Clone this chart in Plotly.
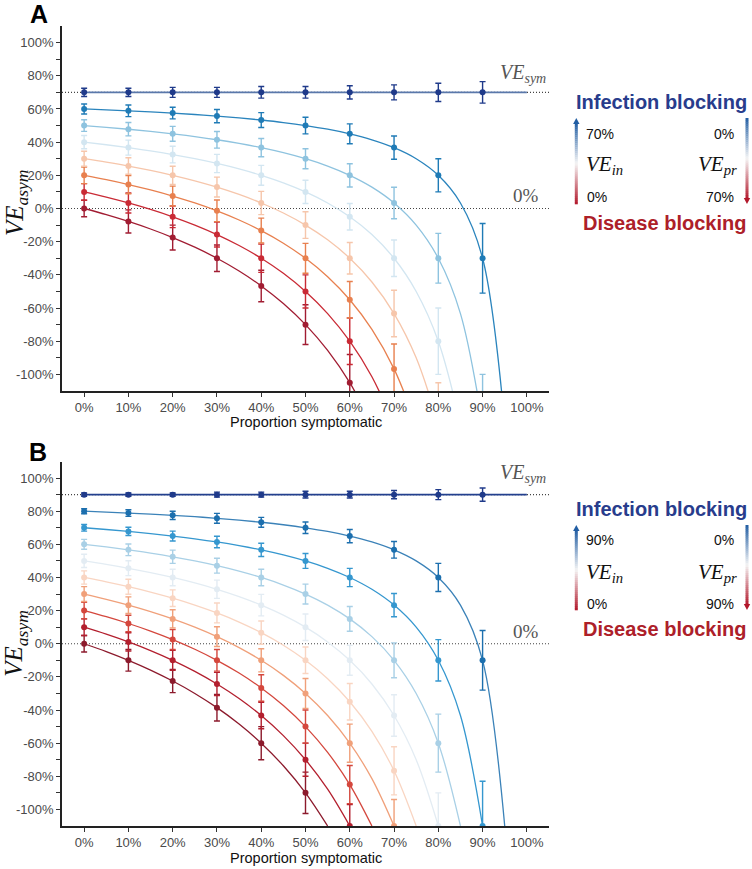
import plotly.graph_objects as go

W, H = 752, 869

# ---------------- DATA ----------------
# x positions (% symptomatic) for the measured points and the fitted curves
P_POINTS = [0, 10, 20, 30, 40, 50, 60, 70, 80, 90]
P_FINE = [0, 5, 10, 15, 20, 25, 30, 35, 40, 45, 50, 55, 60, 65, 70, 75, 80, 85, 90, 95]
X_TICKS = [0, 10, 20, 30, 40, 50, 60, 70, 80, 90, 100]
X_TICKTEXT = ["0%", "10%", "20%", "30%", "40%", "50%", "60%", "70%", "80%", "90%", "100%"]
Y_TICKS = [-100, -80, -60, -40, -20, 0, 20, 40, 60, 80, 100]
Y_TICKTEXT = ["-100%", "-80%", "-60%", "-40%", "-20%", "0%", "20%", "40%", "60%", "80%", "100%"]
Y_MINOR = [-90, -70, -50, -30, -10, 10, 30, 50, 70, 90]

# Panel A (VE_sym = 70%), VE_in = 0%..70%
A_VE_SYM = 70
A_VE_IN = [0, 10, 20, 30, 40, 50, 60, 70]
A_POINTS = [
    [0, -7.8, -17.5, -30, -46.7, -70, -105],
    [10, 3.3, -5, -15.7, -30, -50, -80],
    [20, 14.4, 7.5, -1.4, -13.3, -30, -55, -96.7],
    [30, 25.6, 20, 12.9, 3.3, -10, -30, -63.3, -130],
    [40, 36.7, 32.5, 27.1, 20, 10, -5, -30, -80],
    [50, 47.8, 45, 41.4, 36.7, 30, 20, 3.3, -30, -130],
    [60, 58.9, 57.5, 55.7, 53.3, 50, 45, 36.7, 20, -30],
    [70, 70, 70, 70, 70, 70, 70, 70, 70, 70],
]
A_ERRORS = [
    [5, 7, 7.5, 8, 9.5, 12, 17],
    [5, 6, 6.5, 7.5, 8.5, 10, 14],
    [5, 5.5, 6, 6.5, 7.5, 9, 11, 15],
    [4.5, 5, 5.5, 6, 7, 8, 9.5, 14, 25],
    [4, 4.5, 5, 5.5, 6, 7, 8, 11, 20],
    [3.5, 4, 4.5, 5, 5.5, 6, 7, 9.5, 15, 30],
    [3, 3.5, 3.5, 4, 4.5, 5, 6, 7, 10, 21],
    [2.5, 2.5, 3, 3, 3.5, 3.5, 4, 4.5, 5.5, 6.5],
]
A_CURVES = [
    [0, -3.68, -7.78, -12.35, -17.5, -23.33, -30, -37.69, -46.67, -57.27, -70, -85.56, -105, -130],
    [10, 6.84, 3.33, -0.59, -5, -10, -15.71, -22.31, -30, -39.09, -50, -63.33, -80, -101.43, -130],
    [20, 17.37, 14.44, 11.18, 7.5, 3.33, -1.43, -6.92, -13.33, -20.91, -30, -41.11, -55, -72.86, -96.67, -130],
    [30, 27.89, 25.56, 22.94, 20, 16.67, 12.86, 8.46, 3.33, -2.73, -10, -18.89, -30, -44.29, -63.33, -90, -130],
    [40, 38.42, 36.67, 34.71, 32.5, 30, 27.14, 23.85, 20, 15.45, 10, 3.33, -5, -15.71, -30, -50, -80, -130],
    [50, 48.95, 47.78, 46.47, 45, 43.33, 41.43, 39.23, 36.67, 33.64, 30, 25.56, 20, 12.86, 3.33, -10, -30, -63.33, -130],
    [60, 59.47, 58.89, 58.24, 57.5, 56.67, 55.71, 54.62, 53.33, 51.82, 50, 47.78, 45, 41.43, 36.67, 30, 20, 3.33, -30, -130],
    None,
]
A_COLORS = ["#a11c32", "#c92a35", "#e8804f", "#f6c6ab", "#d3e6f1", "#8ec3df", "#1f7bb6", "#1f3a8a"]
A_LINE_COLORS = ["#a11c32", "#c92a35", "#e8804f", "#f6c6ab", "#d3e6f1", "#8ec3df", "#2a84bd", "#5a78ab"]

# Panel B (VE_sym = 90%), VE_in = 0%..90%
B_VE_SYM = 90
B_VE_IN = [0, 10, 20, 30, 40, 50, 60, 70, 80, 90]
B_POINTS = [
    [0, -10, -22.5, -38.6, -60, -90],
    [10, 1.1, -10, -24.3, -43.3, -70, -110],
    [20, 12.2, 2.5, -10, -26.7, -50, -85],
    [30, 23.3, 15, 4.3, -10, -30, -60, -110],
    [40, 34.4, 27.5, 18.6, 6.7, -10, -35, -76.7],
    [50, 45.6, 40, 32.9, 23.3, 10, -10, -43.3, -110],
    [60, 56.7, 52.5, 47.1, 40, 30, 15, -10, -60],
    [70, 67.8, 65, 61.4, 56.7, 50, 40, 23.3, -10, -110],
    [80, 78.9, 77.5, 75.7, 73.3, 70, 65, 56.7, 40, -10],
    [90, 90, 90, 90, 90, 90, 90, 90, 90, 90],
]
B_ERRORS = [
    [5, 6.5, 7, 8, 10, 12.5],
    [5, 5.5, 6, 7, 8, 10, 13],
    [5, 5, 6, 6.5, 8, 10, 11.5],
    [4.5, 5, 5.5, 6, 7, 9, 11.5, 16],
    [4, 4.5, 5, 6, 7, 8, 11, 14.5],
    [4, 4.5, 5, 5.5, 6.5, 8, 9, 12.5, 20],
    [3, 3.5, 4, 4.5, 5, 6, 7.5, 10.5, 17.5],
    [2, 2.5, 3, 3.5, 4, 4.5, 5.5, 7, 12.5, 27],
    [1.5, 2, 2.5, 3, 3, 3.5, 4, 5, 8.5, 18],
    [1, 1, 1, 1.5, 1.5, 2, 2, 2.5, 3, 4],
]
B_CURVES = [
    [0, -4.74, -10, -15.88, -22.5, -30, -38.57, -48.46, -60, -73.64, -90, -110],
    [10, 5.79, 1.11, -4.12, -10, -16.67, -24.29, -33.08, -43.33, -55.45, -70, -87.78, -110],
    [20, 16.32, 12.22, 7.65, 2.5, -3.33, -10, -17.69, -26.67, -37.27, -50, -65.56, -85, -110],
    [30, 26.84, 23.33, 19.41, 15, 10, 4.29, -2.31, -10, -19.09, -30, -43.33, -60, -81.43, -110],
    [40, 37.37, 34.44, 31.18, 27.5, 23.33, 18.57, 13.08, 6.67, -0.91, -10, -21.11, -35, -52.86, -76.67, -110],
    [50, 47.89, 45.56, 42.94, 40, 36.67, 32.86, 28.46, 23.33, 17.27, 10, 1.11, -10, -24.29, -43.33, -70, -110],
    [60, 58.42, 56.67, 54.71, 52.5, 50, 47.14, 43.85, 40, 35.45, 30, 23.33, 15, 4.29, -10, -30, -60, -110],
    [70, 68.95, 67.78, 66.47, 65, 63.33, 61.43, 59.23, 56.67, 53.64, 50, 45.56, 40, 32.86, 23.33, 10, -10, -43.33, -110],
    [80, 79.47, 78.89, 78.24, 77.5, 76.67, 75.71, 74.62, 73.33, 71.82, 70, 67.78, 65, 61.43, 56.67, 50, 40, 23.33, -10, -110],
    None,
]
B_COLORS = ["#8c1a2c", "#b31f2e", "#d4473d", "#f0a07a", "#f9d5c2", "#e3ecf3", "#a9d0e6", "#3597cf", "#1c6fae", "#1f3a8a"]
B_LINE_COLORS = ["#8c1a2c", "#b31f2e", "#d4473d", "#f0a07a", "#f9d5c2", "#e3ecf3", "#a9d0e6", "#3597cf", "#3b82b8", "#23408e"]


# --------------- helpers (screen pixels -> paper) ---------------
def X(px):
    return px / W


def Y(py):
    return 1 - py / H


fig = go.Figure()


def add_panel(xa, ya, ve_sym, points, errors, curves, colors, line_colors):
    for i in range(len(points)):
        col = colors[i]
        lcol = line_colors[i]
        if curves[i] is None:
            fig.add_trace(go.Scatter(x=[0, 100], y=[ve_sym, ve_sym], mode="lines",
                                     line=dict(color=lcol, width=1.6),
                                     xaxis=xa, yaxis=ya, showlegend=False, hoverinfo="skip"))
        else:
            n = len(curves[i])
            fig.add_trace(go.Scatter(x=P_FINE[:n], y=curves[i], mode="lines",
                                     line=dict(color=lcol, width=1.3, shape="spline", smoothing=1.0),
                                     xaxis=xa, yaxis=ya, showlegend=False, hoverinfo="skip"))
        n = len(points[i])
        fig.add_trace(go.Scatter(x=P_POINTS[:n], y=points[i], mode="markers",
                                 marker=dict(color=col, size=6),
                                 error_y=dict(type="data", array=errors[i], symmetric=True,
                                              color=col, thickness=1.4, width=3),
                                 xaxis=xa, yaxis=ya, showlegend=False))


add_panel("x", "y", A_VE_SYM, A_POINTS, A_ERRORS, A_CURVES, A_COLORS, A_LINE_COLORS)
add_panel("x2", "y2", B_VE_SYM, B_POINTS, B_ERRORS, B_CURVES, B_COLORS, B_LINE_COLORS)

tickfont = dict(family="Liberation Sans, Arial, sans-serif", size=13, color="#4a4a4a")

xdom = [X(62), X(549)]
axis_common_x = dict(range=[-5, 105], tickvals=X_TICKS, ticktext=X_TICKTEXT, ticks="outside",
                     ticklen=4, tickwidth=1, tickcolor="#333", showline=True, linecolor="#222",
                     linewidth=1.6, showgrid=False, zeroline=False, tickfont=tickfont, domain=xdom)
axis_common_y = dict(range=[-110, 110], tickvals=Y_TICKS, ticktext=Y_TICKTEXT, ticks="outside",
                     ticklen=4, tickwidth=1, tickcolor="#333", showline=True, linecolor="#222",
                     linewidth=1.6, showgrid=False, zeroline=False, tickfont=tickfont,
                     minor=dict(tickmode="array", tickvals=Y_MINOR, ticks="outside", ticklen=4,
                                tickwidth=1, tickcolor="#333", showgrid=False))

fig.update_layout(
    width=W, height=H,
    margin=dict(l=0, r=0, t=0, b=0, autoexpand=False),
    paper_bgcolor="white", plot_bgcolor="white",
    xaxis=dict(axis_common_x, anchor="y"),
    yaxis=dict(axis_common_y, domain=[Y(391), Y(26)], anchor="x"),
    xaxis2=dict(axis_common_x, anchor="y2"),
    yaxis2=dict(axis_common_y, domain=[Y(826), Y(461.5)], anchor="x2"),
)

shapes = []
annotations = []

# dotted reference lines
for xr, yr, ve_sym in [("x", "y", A_VE_SYM), ("x2", "y2", B_VE_SYM)]:
    for yv in [ve_sym, 0]:
        shapes.append(dict(type="line", xref=xr, yref=yr, x0=-5, x1=105, y0=yv, y1=yv,
                           line=dict(color="#444", width=1.1, dash="1px,2px"), layer="below"))

serif = "Liberation Serif, DejaVu Serif, serif"
sans = "Liberation Sans, Arial, sans-serif"


def ann(x, y, text, size, color="#000", family=sans, xanchor="center", textangle=0):
    annotations.append(dict(x=X(x), y=Y(y), xref="paper", yref="paper", text=text, showarrow=False,
                            font=dict(family=family, size=size, color=color), xanchor=xanchor,
                            yanchor="middle", textangle=textangle))


def gradient_bar(x0, x1, y_top, y_bot, nseg=40):
    # top colour blue -> white -> red at bottom
    stops = [(0.0, (0x21, 0x5d, 0xa3)), (0.5, (0xf4, 0xf4, 0xf4)), (1.0, (0xb2, 0x18, 0x2b))]
    for k in range(nseg):
        t = (k + 0.5) / nseg
        if t <= 0.5:
            a, b, f = stops[0][1], stops[1][1], t / 0.5
        else:
            a, b, f = stops[1][1], stops[2][1], (t - 0.5) / 0.5
        c = tuple(int(round(a[j] + (b[j] - a[j]) * f)) for j in range(3))
        ya = y_top + (y_bot - y_top) * k / nseg
        yb = y_top + (y_bot - y_top) * (k + 1) / nseg
        shapes.append(dict(type="rect", xref="paper", yref="paper", x0=X(x0), x1=X(x1),
                           y0=Y(yb + 0.3), y1=Y(ya), line=dict(width=0),
                           fillcolor=f"rgb{c}"))


def tri(xc, tip, base, color):
    path = f"M {X(xc)},{Y(tip)} L {X(xc - 3.2)},{Y(base)} L {X(xc + 3.2)},{Y(base)} Z"
    shapes.append(dict(type="path", xref="paper", yref="paper", path=path,
                       fillcolor=color, line=dict(width=0)))


def legend_block(y_inf, y_top_lbl, y_mid, y_bot_lbl, y_dis, bar_top, bar_bot, maxval):
    ann(749, y_inf, "<b>Infection blocking</b>", 20, "#283c8c", sans, "right")
    ann(748, y_dis, "<b>Disease blocking</b>", 20, "#ad2029", sans, "right")
    # left bar (arrow up)
    gradient_bar(574.8, 577.8, bar_top + 5, bar_bot)
    tri(576.3, bar_top, bar_top + 6, "#215da3")
    # right bar (arrow down)
    gradient_bar(745.5, 748.5, bar_top, bar_bot - 5)
    tri(747, bar_bot, bar_bot - 6, "#b2182b")
    ann(584, y_top_lbl, f"{maxval}%", 14, "#111", sans, "left")
    ann(584, y_mid, "<i>VE</i><sub><i>in</i></sub>", 21, "#111", serif, "left")
    ann(585, y_bot_lbl, "0%", 14, "#111", sans, "left")
    ann(736, y_top_lbl, "0%", 14, "#111", sans, "right")
    ann(739, y_mid, "<i>VE</i><sub><i>pr</i></sub>", 21, "#111", serif, "right")
    ann(736, y_bot_lbl, f"{maxval}%", 14, "#111", sans, "right")


legend_block(102, 134, 165, 197, 223, 118, 204, 70)
legend_block(509, 540, 573, 604, 629, 525, 610, 90)

# panel letters
ann(39, 14, "<b>A</b>", 25, "#000")
ann(38, 452, "<b>B</b>", 25, "#000")

# axis titles
for y_axis_center, y_title in [(203, 422), (643.7, 858)]:
    ann(305.5, y_title, "Proportion symptomatic", 14.5, "#111", sans)
    ann(16, y_axis_center, "<i>VE</i><sub><i>asym</i></sub>", 25, "#111", serif, "center", -90)

# reference line labels
ann(548, 73, "<i>VE</i><sub><i>sym</i></sub>", 20, "#555", serif, "right")
ann(541, 195, "0%", 19, "#555", serif, "right")
ann(548, 474, "<i>VE</i><sub><i>sym</i></sub>", 20, "#555", serif, "right")
ann(541, 631, "0%", 19, "#555", serif, "right")

fig.update_layout(shapes=shapes, annotations=annotations)
# remove the browser's default 8px body margin so the figure fills the window exactly
fig.write_html("out.html", config={"displayModeBar": False},
               post_script="document.body.style.margin='0';document.body.style.padding='0';")
